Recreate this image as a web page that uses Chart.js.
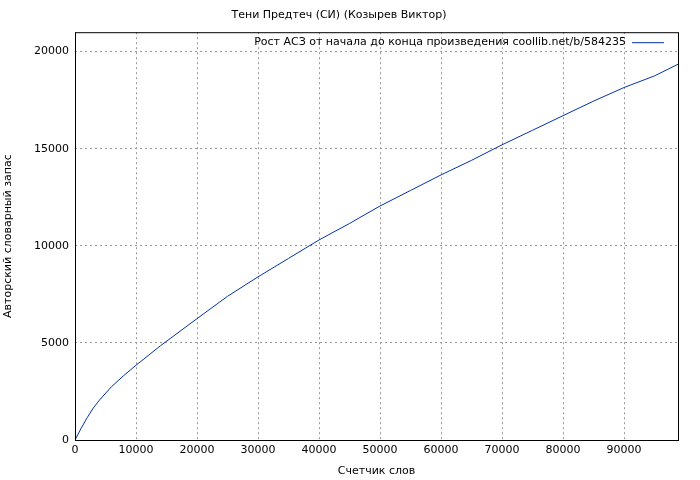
<!DOCTYPE html>
<html><head><meta charset="utf-8">
<script src="https://cdn.jsdelivr.net/npm/chart.js@4"></script>
<style>body{margin:0;background:#fff}#wrap{width:700px;height:480px}</style>
</head><body><div id="wrap"><canvas id="c"></canvas></div>
<script>
const words = [0, 1000, 2000, 3000, 4000, 6000, 8000, 10000, 14000, 20000, 25000, 30000, 35000, 40000, 45000, 50000, 55000, 60000, 65000, 70000, 75000, 80000, 85000, 90000, 95000, 98850];
const vocab = [0, 600, 1150, 1650, 2050, 2750, 3320, 3850, 4850, 6250, 7400, 8400, 9350, 10300, 11150, 12050, 12850, 13650, 14400, 15200, 15950, 16700, 17450, 18150, 18750, 19350];
const xTicks = [0, 10000, 20000, 30000, 40000, 50000, 60000, 70000, 80000, 90000];
const yTicks = [0, 5000, 10000, 15000, 20000];
const font = { family: 'DejaVu Sans', size: 11 };

// solid frame + gnuplot-like legend (text then line sample) at top right
const frame = {
  id: 'frame',
  afterDraw(chart) {
    const a = chart.chartArea, ctx = chart.ctx;
    const ds = chart.data.datasets[0];
    ctx.save();
    ctx.strokeStyle = '#000';
    ctx.lineWidth = 1;
    ctx.strokeRect(a.left + 0.5, a.top + 0.5, a.right - a.left, a.bottom - a.top);
    ctx.font = '11px "DejaVu Sans"';
    ctx.fillStyle = '#000';
    ctx.textAlign = 'right';
    ctx.textBaseline = 'middle';
    const y = a.top + 10;
    ctx.fillText(ds.label, a.right - 52, y);
    ctx.strokeStyle = ds.borderColor;
    ctx.beginPath();
    ctx.moveTo(a.right - 46, y + 0.5);
    ctx.lineTo(a.right - 14, y + 0.5);
    ctx.stroke();
    ctx.restore();
  }
};

new Chart(document.getElementById('c'), {
  type: 'line',
  data: {
    datasets: [{
      label: 'Рост АСЗ от начала до конца произведения coollib.net/b/584235',
      data: words.map((w, i) => ({ x: w, y: vocab[i] })),
      borderColor: '#0033aa',
      borderWidth: 1,
      pointRadius: 0,
      tension: 0
    }]
  },
  options: {
    animation: false,
    responsive: true,
    maintainAspectRatio: false,
    layout: { padding: { right: 22 } },
    plugins: {
      title: { display: true, text: 'Тени Предтеч (СИ) (Козырев Виктор)', color: '#000', font: { ...font, weight: 'normal' }, padding: { top: 9, bottom: 10 } },
      legend: { display: false },
      tooltip: { enabled: false }
    },
    scales: {
      x: {
        type: 'linear', min: 0, max: 98850,
        afterBuildTicks: s => { s.ticks = xTicks.map(v => ({ value: v })); },
        ticks: { color: '#000', font, maxRotation: 0, padding: 4, callback: v => String(v) },
        grid: { color: '#999', tickLength: 0 },
        border: { dash: [2, 3], display: false },
        title: { display: true, text: 'Счетчик слов', color: '#000', font, padding: 2 },
        afterFit: s => { s.height = 40; }
      },
      y: {
        min: 0, max: 21000,
        afterBuildTicks: s => { s.ticks = yTicks.map(v => ({ value: v })); },
        ticks: { color: '#000', font, padding: 6, callback: v => String(v) },
        grid: { color: '#999', tickLength: 0 },
        border: { dash: [2, 3], display: false },
        title: { display: true, text: 'Авторский словарный запас', color: '#000', font, padding: 2 },
        afterFit: s => { s.width = 75; }
      }
    }
  },
  plugins: [frame]
});
</script></body></html>
